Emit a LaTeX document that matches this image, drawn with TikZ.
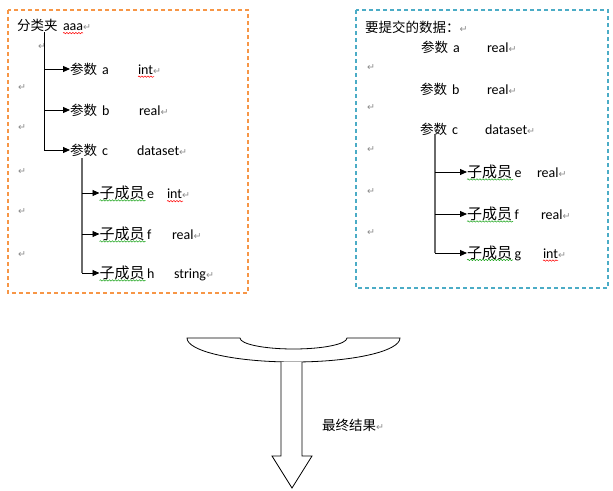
\documentclass[tikz,border=0pt]{standalone}
\usepackage{fontspec}
\setmainfont{Carlito}
\newfontfamily\cjkfont{Noto Sans CJK SC}
\newfontfamily\symfont{DejaVu Sans}
\usetikzlibrary{arrows.meta,decorations.pathmorphing}

\definecolor{boxorange}{HTML}{F79646}
\definecolor{boxblue}{HTML}{4BACC6}
\definecolor{markgray}{HTML}{8A8A8A}
\definecolor{treegray}{HTML}{6A6A6A}
\definecolor{grammargreen}{HTML}{10A010}

% Chinese text in two sizes, and the paragraph mark
\newcommand\zh[1]{{\cjkfont\fontsize{13.5}{16}\selectfont #1}}
\newcommand\zhbig[1]{{\cjkfont\fontsize{15}{18}\selectfont #1}}
\newcommand\pmark{{\symfont\fontsize{9.5}{11}\selectfont\color{markgray}↵}}

\begin{document}
\begin{tikzpicture}[x=1pt, y=-1pt,
  txt/.style={inner sep=0pt, outer sep=0pt, font=\fontsize{14}{16}\selectfont, anchor=west},
  typ/.style={txt, anchor=base west},
  ret/.style={inner sep=0pt, outer sep=0pt, anchor=west, font=\symfont\fontsize{9.5}{11}\selectfont, text=markgray},
  orangebox/.style={draw=boxorange, line width=1.2pt, dash pattern=on 4pt off 3pt},
  bluebox/.style={draw=boxblue, line width=1.2pt, dash pattern=on 4pt off 3pt},
  trunk/.style={draw=black, line width=1pt},
  subtrunk/.style={draw=treegray, line width=1.3pt},
  arr/.style={draw=black, line width=0.9pt, -{Triangle[length=7pt,width=6pt]}},
  spell/.style={draw=red, line width=0.5pt, decorate, decoration={snake, amplitude=0.7pt, segment length=3pt}},
  grammar/.style={spell, draw=grammargreen},
  outline/.style={draw=black, line width=0.8pt, fill=white, line join=miter}
]
\useasboundingbox (0,0) rectangle (613,490);

% ---------- left group: category folder ----------
\draw[orangebox] (8,10) rectangle (248,293);

\node[txt] (ltitle) at (17,25.5) {\zh{分类夹}};
\node[typ] (laaa) at (ltitle.base -| 63,0) {aaa\pmark};
\draw[spell] ([yshift=-2.5pt]laaa.base west) -- ++(20,0);

\coordinate (ltrunk) at (44,32);
\node[ret] (lr1) at (38,47) {↵};

\node[txt] (la) at (70,69) {\zh{参数}\hspace{5pt}a};
\node[typ] (lat) at (la.base -| 138,0) {int\pmark};
\draw[spell] ([yshift=-2.5pt]lat.base west) -- ++(16,0);
\node[ret] (lr2) at (18,88) {↵};

\node[txt] (lb) at (70,110) {\zh{参数}\hspace{5pt}b};
\node[typ] (lbt) at (lb.base -| 139,0) {real\pmark};
\node[ret] (lr3) at (18,128) {↵};

\node[txt] (lc) at (70,150) {\zh{参数}\hspace{5pt}c};
\node[typ] (lct) at (lc.base -| 137,0) {dataset\pmark};
\node[ret] (lr4) at (18,172) {↵};

\draw[arr] (ltrunk |- la.west) -- (la.west);
\draw[arr] (ltrunk |- lb.west) -- (lb.west);
\draw[arr] (ltrunk) |- (lc.west);

\node[txt] (le) at (99.5,193) {\zhbig{子成员}\hspace{2.5pt}e};
\node[typ] (let) at (le.base -| 167,0) {int\pmark};
\draw[grammar] ([yshift=-1.8pt]le.base west) -- ++(46,0);
\draw[spell] ([yshift=-2.5pt]let.base west) -- ++(16,0);
\node[ret] (lr5) at (18,212) {↵};

\node[txt] (lf) at (99.5,234) {\zhbig{子成员}\hspace{2.5pt}f};
\node[typ] (lft) at (lf.base -| 172,0) {real\pmark};
\draw[grammar] ([yshift=-1.8pt]lf.base west) -- ++(46,0);
\node[ret] (lr6) at (18,255) {↵};

\node[txt] (lh) at (99.5,273) {\zhbig{子成员}\hspace{2.5pt}h};
\node[typ] (lht) at (lh.base -| 174,0) {string\pmark};
\draw[grammar] ([yshift=-1.8pt]lh.base west) -- ++(46,0);

\coordinate (lsub) at (82,158);
\draw[subtrunk] (lsub) -- (lsub |- lh.west);
\draw[arr] (lsub |- le.west) -- (le.west);
\draw[arr] (lsub |- lf.west) -- (lf.west);
\draw[arr] (lsub |- lh.west) -- (lh.west);

% ---------- right group: data to submit ----------
\draw[bluebox] (356,10) rectangle (608,288);

\node[txt] (rtitle) at (365,27) {\zh{要提交的数据：}\pmark};

\node[txt] (ra) at (421,47) {\zh{参数}\hspace{5pt}a};
\node[typ] (rat) at (ra.base -| 487,0) {real\pmark};
\node[ret] (rr1) at (367,68) {↵};

\node[txt] (rb) at (420,89) {\zh{参数}\hspace{5pt}b};
\node[typ] (rbt) at (rb.base -| 487,0) {real\pmark};
\node[ret] (rr2) at (367,108) {↵};

\node[txt] (rc) at (420,129) {\zh{参数}\hspace{5pt}c};
\node[typ] (rct) at (rc.base -| 485,0) {dataset\pmark};
\node[ret] (rr3) at (367,150) {↵};

\node[txt] (re) at (467,172) {\zhbig{子成员}\hspace{2.5pt}e};
\node[typ] (ret) at (re.base -| 537,0) {real\pmark};
\draw[grammar] ([yshift=-1.8pt]re.base west) -- ++(46,0);
\node[ret] (rr4) at (367,192) {↵};

\node[txt] (rf) at (467,214) {\zhbig{子成员}\hspace{2.5pt}f};
\node[typ] (rft) at (rf.base -| 541,0) {real\pmark};
\draw[grammar] ([yshift=-1.8pt]rf.base west) -- ++(46,0);
\node[ret] (rr5) at (367,233) {↵};

\node[txt] (rg) at (467,253) {\zhbig{子成员}\hspace{2.5pt}g};
\node[typ] (rgt) at (rg.base -| 543,0) {int\pmark};
\draw[grammar] ([yshift=-1.8pt]rg.base west) -- ++(46,0);
\draw[spell] ([yshift=-2.5pt]rgt.base west) -- ++(15,0);

\coordinate (rsub) at (435,135);
\draw[subtrunk] (rsub) -- (rsub |- rg.west);
\draw[arr] (rsub |- re.west) -- (re.west);
\draw[arr] (rsub |- rf.west) -- (rf.west);
\draw[arr] (rsub |- rg.west) -- (rg.west);

% ---------- funnel bowl and result arrow ----------
\draw[outline] (187,338) -- (240,338)
  .. controls (240,344.1) and (263.95,349) .. (293.5,349)
  .. controls (323.05,349) and (347,344.1) .. (347,338)
  -- (400,338)
  .. controls (400,351.3) and (352.3,362) .. (293.5,362)
  .. controls (234.7,362) and (187,351.3) .. (187,338) -- cycle;
\draw[outline] (281,361.8) -- (281,456) -- (272,456) -- (292,488)
  -- (312,456) -- (302,456) -- (302,361.8);

\node[txt] (result) at (322,425) {\zh{最终结果}\pmark};
\end{tikzpicture}
\end{document}
